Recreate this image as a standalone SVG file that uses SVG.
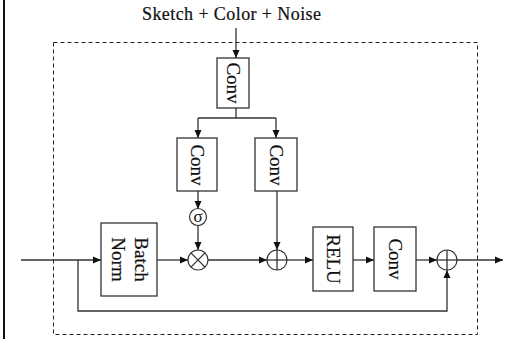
<svg xmlns="http://www.w3.org/2000/svg" width="509" height="339" viewBox="0 0 509 339">
<defs>
<marker id="ah" viewBox="0 0 8 8" refX="8" refY="4" markerWidth="8" markerHeight="8" markerUnits="userSpaceOnUse" orient="auto">
<path d="M0,0.5 L8,4 L0,7.5 Z" fill="#111"/>
</marker>
<style>
.box{fill:#fff;stroke:#333;stroke-width:1.3}
.ln{fill:none;stroke:#333;stroke-width:1.3}
.op{fill:#fff;stroke:#333;stroke-width:1.2}
.t{font-family:"Liberation Serif","Times New Roman",serif;font-size:19px;fill:#111;text-anchor:middle;dominant-baseline:central;stroke:#111;stroke-width:0.2}
</style>
</defs>
<rect width="509" height="339" fill="#fff"/>
<line x1="4" y1="0" x2="4" y2="339" stroke="#111" stroke-width="2"/>
<rect x="53.5" y="42.5" width="424" height="292" fill="none" stroke="#222" stroke-width="1" stroke-dasharray="4,3"/>
<text x="231.5" y="20" font-family="Liberation Serif,'Times New Roman',serif" font-size="18" fill="#111" stroke="#111" stroke-width="0.2" text-anchor="middle" textLength="179" lengthAdjust="spacing">Sketch + Color + Noise</text>
<g id="connectors">
<line class="ln" x1="236" y1="28" x2="236" y2="58" marker-end="url(#ah)"/>
<polyline class="ln" points="236,108 236,118"/>
<polyline class="ln" points="198,118 276,118"/>
<line class="ln" x1="198" y1="118" x2="198" y2="138" marker-end="url(#ah)"/>
<line class="ln" x1="276" y1="118" x2="276" y2="138" marker-end="url(#ah)"/>
<line class="ln" x1="198" y1="191" x2="198" y2="209" marker-end="url(#ah)"/>
<line class="ln" x1="198" y1="225" x2="198" y2="250" marker-end="url(#ah)"/>
<line class="ln" x1="277" y1="191" x2="277" y2="250" marker-end="url(#ah)"/>
<line class="ln" x1="21" y1="260" x2="101" y2="260" marker-end="url(#ah)"/>
<line class="ln" x1="157" y1="260" x2="188" y2="260" marker-end="url(#ah)"/>
<line class="ln" x1="208" y1="260" x2="267" y2="260" marker-end="url(#ah)"/>
<line class="ln" x1="287" y1="260" x2="313" y2="260" marker-end="url(#ah)"/>
<line class="ln" x1="353" y1="260" x2="374" y2="260" marker-end="url(#ah)"/>
<line class="ln" x1="416" y1="260" x2="437" y2="260" marker-end="url(#ah)"/>
<line class="ln" x1="457" y1="260" x2="503" y2="260" marker-end="url(#ah)"/>
<polyline class="ln" points="78,260 78,311 447,311 447,270" marker-end="url(#ah)"/>
</g>
<g id="conv-top">
<rect class="box" x="217" y="58" width="32" height="50"/>
<text class="t" transform="translate(233,83) rotate(90)">Conv</text>
</g>
<g id="conv-left">
<rect class="box" x="177" y="138" width="40" height="53"/>
<text class="t" transform="translate(197,165) rotate(90)">Conv</text>
</g>
<g id="conv-right">
<rect class="box" x="255" y="138" width="42" height="53"/>
<text class="t" transform="translate(276,165) rotate(90)">Conv</text>
</g>
<g id="sigma">
<circle class="op" cx="198" cy="217" r="8.5"/>
<text x="198" y="216" font-family="Liberation Serif,'Times New Roman',serif" font-size="17" fill="#111" text-anchor="middle" dominant-baseline="central">σ</text>
</g>
<g id="multiply">
<circle class="op" cx="198" cy="260" r="10"/>
<line class="ln" x1="190.9" y1="252.9" x2="205.1" y2="267.1" stroke-width="1"/>
<line class="ln" x1="205.1" y1="252.9" x2="190.9" y2="267.1" stroke-width="1"/>
</g>
<g id="batchnorm">
<rect class="box" x="101" y="223" width="56" height="73"/>
<text class="t" transform="translate(141,259.5) rotate(90)">Batch</text>
<text class="t" transform="translate(118,259.5) rotate(90)">Norm</text>
</g>
<g id="add1">
<circle class="op" cx="277" cy="260" r="10"/>
<line class="ln" x1="267" y1="260" x2="287" y2="260" stroke-width="1"/>
<line class="ln" x1="277" y1="250" x2="277" y2="270" stroke-width="1"/>
</g>
<g id="relu">
<rect class="box" x="313" y="227" width="40" height="64"/>
<text class="t" transform="translate(333,259) rotate(90)">RELU</text>
</g>
<g id="conv-out">
<rect class="box" x="374" y="227" width="42" height="64"/>
<text class="t" transform="translate(395,259) rotate(90)">Conv</text>
</g>
<g id="add2">
<circle class="op" cx="447" cy="260" r="10"/>
<line class="ln" x1="437" y1="260" x2="457" y2="260" stroke-width="1"/>
<line class="ln" x1="447" y1="250" x2="447" y2="270" stroke-width="1"/>
</g>
</svg>
